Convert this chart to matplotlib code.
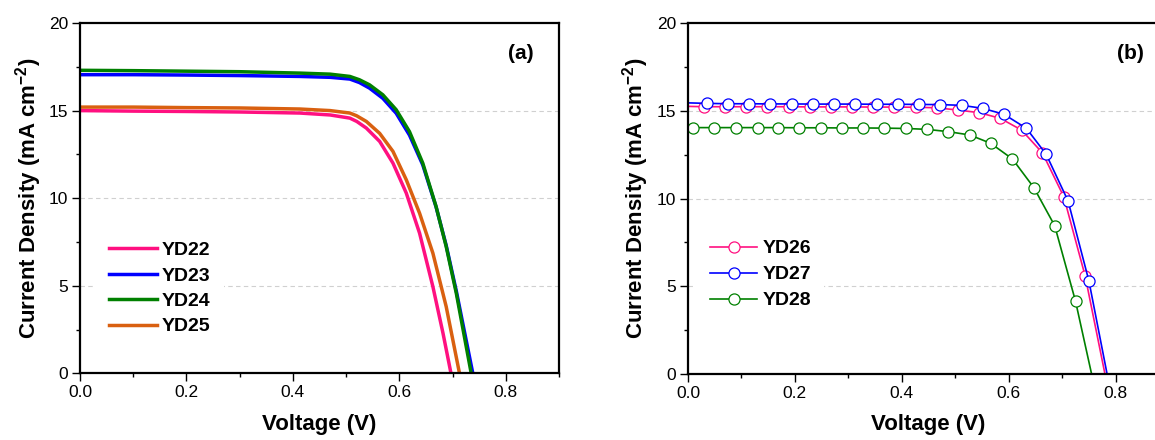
import matplotlib
matplotlib.use('Agg')
import matplotlib.pyplot as plt
from matplotlib.ticker import MultipleLocator

plt.rcParams['font.family'] = ['Liberation Sans', 'DejaVu Sans']
plt.rcParams['mathtext.fontset'] = 'custom'
plt.rcParams['mathtext.rm'] = 'Liberation Sans'
plt.rcParams['mathtext.bf'] = 'Liberation Sans:bold'
plt.rcParams['mathtext.default'] = 'bf'

# panel (a): J-V curves, no markers
v_yd22 = [0, 0.1, 0.2, 0.3, 0.413, 0.47, 0.507, 0.52, 0.538, 0.563, 0.588, 0.613, 0.638, 0.663, 0.682, 0.697]
j_yd22 = [15.0, 14.97, 14.95, 14.92, 14.86, 14.75, 14.57, 14.38, 14.0, 13.24, 12.0, 10.29, 8.0, 4.95, 2.29, 0]
v_yd23 = [0, 0.1, 0.2, 0.3, 0.413, 0.47, 0.507, 0.525, 0.544, 0.569, 0.594, 0.619, 0.644, 0.669, 0.688, 0.707, 0.738]
j_yd23 = [17.05, 17.05, 17.03, 17.0, 16.95, 16.9, 16.8, 16.6, 16.28, 15.7, 14.85, 13.6, 11.9, 9.5, 7.3, 4.7, 0]
v_yd24 = [0, 0.1, 0.2, 0.3, 0.413, 0.47, 0.507, 0.525, 0.544, 0.569, 0.594, 0.619, 0.644, 0.669, 0.688, 0.707, 0.735]
j_yd24 = [17.3, 17.28, 17.25, 17.22, 17.14, 17.08, 16.95, 16.76, 16.47, 15.9, 15.05, 13.8, 12.0, 9.52, 7.24, 4.57, 0]
v_yd25 = [0, 0.1, 0.2, 0.3, 0.413, 0.47, 0.507, 0.52, 0.538, 0.563, 0.588, 0.613, 0.638, 0.663, 0.688, 0.713]
j_yd25 = [15.2, 15.2, 15.17, 15.15, 15.09, 15.0, 14.86, 14.7, 14.38, 13.7, 12.67, 11.05, 9.14, 6.86, 3.81, 0]

# panel (b): J-V curves with open circles (first/last points have no marker)
v_yd26 = [0, 0.030, 0.069, 0.109, 0.148, 0.188, 0.228, 0.267, 0.307, 0.346, 0.386, 0.426,
          0.465, 0.505, 0.545, 0.584, 0.624, 0.663, 0.703, 0.743, 0.780]
j_yd26 = [15.25, 15.23, 15.23, 15.23, 15.23, 15.23, 15.22, 15.22, 15.22, 15.21, 15.21, 15.2,
          15.17, 15.04, 14.89, 14.57, 13.9, 12.6, 10.1, 5.58, 0]
v_yd27 = [0, 0.036, 0.075, 0.114, 0.153, 0.194, 0.233, 0.273, 0.312, 0.353, 0.392, 0.432,
          0.472, 0.512, 0.551, 0.591, 0.633, 0.670, 0.711, 0.750, 0.784]
j_yd27 = [15.45, 15.42, 15.4, 15.4, 15.39, 15.39, 15.38, 15.38, 15.38, 15.37, 15.37, 15.36,
          15.35, 15.31, 15.14, 14.8, 14.0, 12.52, 9.86, 5.3, 0]
v_yd28 = [0, 0.010, 0.049, 0.090, 0.130, 0.169, 0.208, 0.249, 0.288, 0.328, 0.367, 0.408,
          0.447, 0.487, 0.527, 0.566, 0.607, 0.647, 0.686, 0.725, 0.755]
j_yd28 = [14.05, 14.04, 14.04, 14.04, 14.04, 14.04, 14.03, 14.03, 14.02, 14.02, 14.01, 13.99,
          13.94, 13.81, 13.62, 13.15, 12.25, 10.62, 8.45, 4.14, 0]

PINK = '#FF1080'
BLUE = '#0000FF'
GREEN = '#008000'
ORANGE = '#D96010'


def style_axes(ax):
    ax.set_xlim(0, 0.9)
    ax.set_ylim(0, 20)
    ax.xaxis.set_major_locator(MultipleLocator(0.2))
    ax.xaxis.set_minor_locator(MultipleLocator(0.1))
    ax.yaxis.set_major_locator(MultipleLocator(5))
    ax.yaxis.set_minor_locator(MultipleLocator(2.5))
    ax.tick_params(which='both', direction='out', top=False, right=False, width=1.0,
                   labelsize=12.5, pad=3)
    ax.tick_params(which='major', length=5.5)
    ax.tick_params(which='minor', length=3)
    for s in ax.spines.values():
        s.set_linewidth(1.6)
    for yv in (5, 10, 15):
        ax.axhline(yv, color='#D0D0D0', lw=0.8, ls=(0, (4, 3)), zorder=0)
    ax.set_xlabel('Voltage (V)', fontsize=16, fontweight='bold')
    ax.set_ylabel('Current Density (mA cm$^{-2}$)', fontsize=16, fontweight='bold')
    ax.xaxis.set_label_coords(0.5, -0.115)
    ax.yaxis.set_label_coords(-0.076, 0.5)


fig = plt.figure(figsize=(11.55, 4.4), dpi=100)
ax1 = fig.add_axes([0.0693, 0.1515, 0.4147, 0.7962])
ax2 = fig.add_axes([0.5957, 0.1500, 0.4165, 0.7977])

ax1.plot(v_yd22, j_yd22, color=PINK, lw=2.5, label='YD22')
ax1.plot(v_yd23, j_yd23, color=BLUE, lw=2.5, label='YD23')
ax1.plot(v_yd24, j_yd24, color=GREEN, lw=2.5, label='YD24')
ax1.plot(v_yd25, j_yd25, color=ORANGE, lw=2.5, label='YD25')
style_axes(ax1)
ax1.text(0.948, 18.25, '(a)', transform=ax1.get_yaxis_transform(), ha='right', va='center',
         fontsize=15, fontweight='bold')
ax1.legend(loc='upper left', bbox_to_anchor=(0.032, 0.415), borderaxespad=0, borderpad=0.7,
           handlelength=2.47, handletextpad=0.26, labelspacing=0.40,
           frameon=True, facecolor='white', edgecolor='none', framealpha=1, fancybox=False,
           prop={'size': 14, 'weight': 'bold'})

mk = dict(marker='o', markersize=8, markerfacecolor='white', markeredgewidth=0.9,
          lw=1.2, markevery=slice(1, -1))
ax2.plot(v_yd26, j_yd26, color=PINK, markeredgecolor=PINK, label='YD26', **mk)
ax2.plot(v_yd27, j_yd27, color=BLUE, markeredgecolor=BLUE, label='YD27', **mk)
ax2.plot(v_yd28, j_yd28, color=GREEN, markeredgecolor=GREEN, label='YD28', **mk)
style_axes(ax2)
ax2.text(0.948, 18.25, '(b)', transform=ax2.get_yaxis_transform(), ha='right', va='center',
         fontsize=15, fontweight='bold')
ax2.legend(loc='upper left', bbox_to_anchor=(0.0175, 0.421), borderaxespad=0, borderpad=0.7,
           handlelength=2.42, handletextpad=0.26, labelspacing=0.43, numpoints=1,
           frameon=True, facecolor='white', edgecolor='none', framealpha=1, fancybox=False,
           prop={'size': 14, 'weight': 'bold'})

fig.savefig('out.png', dpi=100)
